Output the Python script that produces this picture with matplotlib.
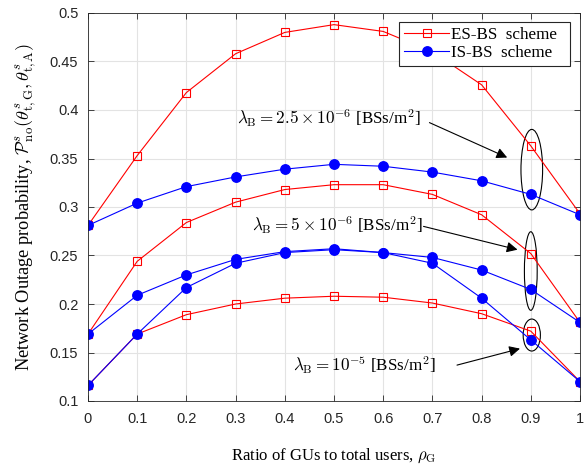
import matplotlib
matplotlib.use("Agg")
import matplotlib.pyplot as plt
from matplotlib.patches import Ellipse

# ratio of GUs to total users
rho = [0.0, 0.1, 0.2, 0.3, 0.4, 0.5, 0.6, 0.7, 0.8, 0.9, 1.0]

# lambda_B = 2.5e-6
es_25 = [0.281, 0.353, 0.418, 0.458, 0.480, 0.488, 0.481, 0.460, 0.426, 0.363, 0.293]
is_25 = [0.281, 0.304, 0.321, 0.331, 0.339, 0.344, 0.342, 0.336, 0.327, 0.313, 0.292]
# lambda_B = 5e-6
es_5 = [0.169, 0.244, 0.284, 0.305, 0.318, 0.323, 0.323, 0.313, 0.292, 0.252, 0.181]
is_5 = [0.169, 0.209, 0.230, 0.246, 0.254, 0.257, 0.253, 0.248, 0.235, 0.215, 0.181]
# lambda_B = 1e-5
es_10 = [0.116, 0.169, 0.189, 0.200, 0.206, 0.208, 0.207, 0.201, 0.190, 0.172, 0.120]
is_10 = [0.116, 0.169, 0.217, 0.242, 0.253, 0.256, 0.253, 0.242, 0.206, 0.163, 0.120]

xticks = [0, 0.1, 0.2, 0.3, 0.4, 0.5, 0.6, 0.7, 0.8, 0.9, 1]
xticklabels = ["0", "0.1", "0.2", "0.3", "0.4", "0.5", "0.6", "0.7", "0.8", "0.9", "1"]
yticks = [0.1, 0.15, 0.2, 0.25, 0.3, 0.35, 0.4, 0.45, 0.5]
yticklabels = ["0.1", "0.15", "0.2", "0.25", "0.3", "0.35", "0.4", "0.45", "0.5"]

plt.rcParams["mathtext.fontset"] = "cm"
serif = "Liberation Serif"
sans = "Liberation Sans"

fig = plt.figure(figsize=(5.84, 4.68), dpi=100)
ax = fig.add_axes([88 / 584, 67 / 468, 492 / 584, 388 / 468])

es_style = dict(color="red", lw=0.8, marker="s", ms=5.5, mfc="none", mec="red", mew=0.8)
is_style = dict(color="blue", lw=0.8, marker="o", ms=6.8, mfc="blue", mec="blue")

for es, iss in [(es_25, is_25), (es_5, is_5), (es_10, is_10)]:
    ax.plot(rho, es, **es_style)
    ax.plot(rho, iss, **is_style)

ax.set_xlim(0, 1)
ax.set_ylim(0.1, 0.5)
ax.set_xticks(xticks)
ax.set_xticklabels(xticklabels, fontfamily=sans, fontsize=10.5)
ax.set_yticks(yticks)
ax.set_yticklabels(yticklabels, fontfamily=sans, fontsize=10.5)
ax.tick_params(direction="in", top=True, right=True, length=4, width=0.6, colors="#262626")
ax.tick_params(axis="x", pad=8)
ax.tick_params(axis="y", pad=7)
ax.grid(True, color="#e3e3e3", lw=0.8)
ax.set_axisbelow(True)
for s in ax.spines.values():
    s.set_color("#262626")
    s.set_linewidth(0.6)

ax.set_xlabel(r"Ratio of GUs to total users, $\rho_{\rm G}$", fontfamily=serif, fontsize=12, labelpad=15)
ax.set_ylabel(r"Network Outage probability, $\mathcal{P}^s_{\rm no}(\theta^s_{\rm t,G},\theta^s_{\rm t,A})$",
              fontfamily=serif, fontsize=13.2, labelpad=8)

# legend
h1, = ax.plot([], [], **es_style)
h2, = ax.plot([], [], **is_style)
leg = ax.legend([h1, h2], ["ES-BS  scheme  ", "IS-BS  scheme  "], loc="upper right",
                bbox_to_anchor=(0.98, 0.977), prop={"family": serif, "size": 12.3},
                fancybox=False, framealpha=1, edgecolor="#262626", borderpad=0.3,
                handlelength=2.6, handletextpad=0.1, labelspacing=0.1, borderaxespad=0)
leg.get_frame().set_linewidth(0.8)

# annotations
ap = dict(arrowstyle="-|>", color="k", lw=0.8, mutation_scale=16, shrinkA=0, shrinkB=0)
ax.text(0.303, 0.392, r"$\lambda_{\rm B}=2.5\times10^{-6}$ [BSs/m$^2$]", fontsize=12.3,
        fontfamily=serif, va="center", ha="left")
ax.annotate("", xy=(0.852, 0.351), xytext=(0.694, 0.387), arrowprops=ap)
ax.add_patch(Ellipse((0.902, 0.3385), 0.044, 0.083, fill=False, ec="k", lw=0.8))

ax.text(0.333, 0.281, r"$\lambda_{\rm B}=5\times10^{-6}$ [BSs/m$^2$]", fontsize=12.3,
        fontfamily=serif, va="center", ha="left")
ax.annotate("", xy=(0.873, 0.256), xytext=(0.682, 0.280), arrowprops=ap)
ax.add_patch(Ellipse((0.900, 0.234), 0.026, 0.081, fill=False, ec="k", lw=0.8))

ax.text(0.417, 0.137, r"$\lambda_{\rm B}=10^{-5}$ [BSs/m$^2$]", fontsize=12.3,
        fontfamily=serif, va="center", ha="left")
ax.annotate("", xy=(0.878, 0.154), xytext=(0.75, 0.137), arrowprops=ap)
ax.add_patch(Ellipse((0.902, 0.168), 0.035, 0.033, fill=False, ec="k", lw=0.8))

fig.savefig("out.png", dpi=100)
